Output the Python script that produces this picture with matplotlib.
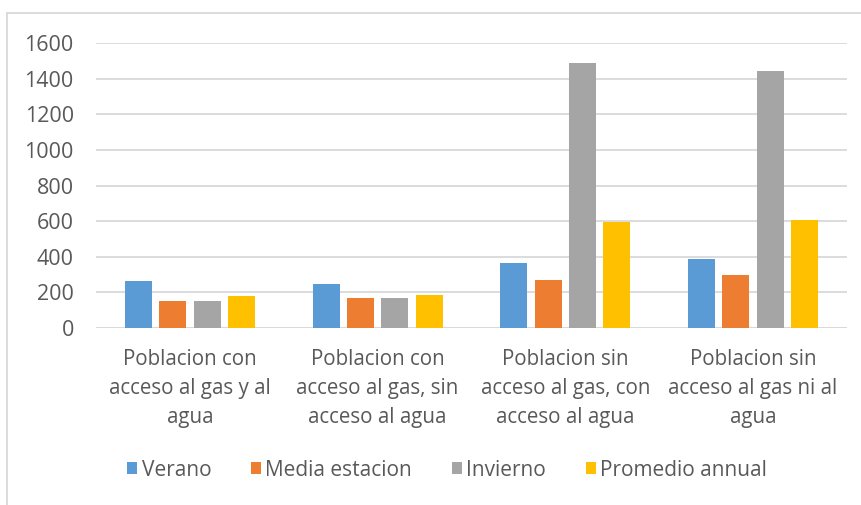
import numpy as np
import matplotlib
matplotlib.use("Agg")
import matplotlib.pyplot as plt
from matplotlib.lines import Line2D

# categories and series
categories = ['Poblacion con\nacceso al gas y al\nagua',
              'Poblacion con\nacceso al gas, sin\nacceso al agua',
              'Poblacion sin\nacceso al gas, con\nacceso al agua',
              'Poblacion sin\nacceso al gas ni al\nagua']
verano = [264, 247, 363, 389]
media_estacion = [153, 168, 268, 298]
invierno = [153, 168, 1489, 1444]
promedio_annual = [181, 187, 597, 607]

series_names = ['Verano', 'Media estacion', 'Invierno', 'Promedio annual']
colors = ['#5B9BD5', '#ED7D31', '#A5A5A5', '#FFC000']
yticks = [0, 200, 400, 600, 800, 1000, 1200, 1400, 1600]

plt.rcParams['font.family'] = ['Open Sans', 'DejaVu Sans']
text_color = '#595959'
grid_color = '#d9d9d9'

fig = plt.figure(figsize=(8.62, 5.05), dpi=100)
ax = fig.add_axes([96 / 862, 1 - 328 / 505, (847 - 96) / 862, (328 - 43) / 505])

x = np.arange(len(categories))
width = 0.144
step = 0.183
all_series = [verano, media_estacion, invierno, promedio_annual]
for i, (vals, name, c) in enumerate(zip(all_series, series_names, colors)):
    ax.bar(x + (i - 1.5) * step, vals, width, color=c, label=name, zorder=3)

ax.set_xlim(-0.5, len(categories) - 0.5)
ax.set_ylim(0, 1600)
ax.set_yticks(yticks)
ax.yaxis.grid(True, color=grid_color, linewidth=1.3, zorder=0)
ax.set_axisbelow(True)
for s in ax.spines.values():
    s.set_visible(False)
ax.axhline(0, color=grid_color, linewidth=1.3, zorder=2)

ax.set_xticks(x)
ax.set_xticklabels(categories, linespacing=1.5)
ax.tick_params(axis='both', length=0, labelcolor=text_color)
ax.tick_params(axis='y', pad=16, labelsize=15.5)
ax.tick_params(axis='x', pad=15, labelsize=14.8)

leg = fig.legend(loc='center', bbox_to_anchor=(447 / 862, 1 - 470 / 505), ncol=4,
                 frameon=False, fontsize=15, handlelength=0.5, handleheight=0.5,
                 handletextpad=0.2, columnspacing=1.9, labelcolor=text_color)

# chart area border (left and top edges visible)
fig.add_artist(Line2D([7 / 862, 7 / 862], [0, 1 - 13 / 505], color=grid_color, linewidth=1.3))
fig.add_artist(Line2D([7 / 862, 1], [1 - 13 / 505, 1 - 13 / 505], color=grid_color, linewidth=1.3))

fig.savefig('out.png', dpi=100)
